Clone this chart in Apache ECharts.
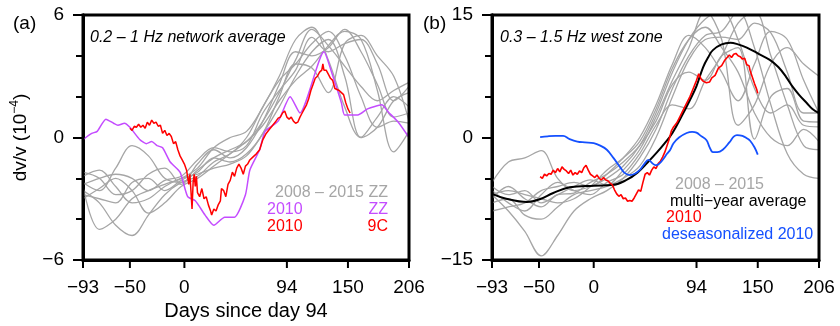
<!DOCTYPE html>
<html><head><meta charset="utf-8">
<script src="https://cdn.jsdelivr.net/npm/echarts@6/dist/echarts.min.js"></script>
<style>html,body{margin:0;padding:0;background:#fff}#c{width:840px;height:326px}</style>
</head><body><div id="c"></div>
<script>
// ---------- data ----------
const xTicks = [-93, -50, 0, 94, 150, 206];
const yTicksA = [-6, 0, 6];
const yTicksB = [-15, 0, 15];
const knotDays = [-93,-78,-63,-48,-33,-18,-3,12,27,42,57,72,87,102,117,132,147,162,177,192,206];

// panel (a) 2008-2015 ZZ (gray)
const grayA1 = [-2.2,-2.6,-1.5,-0.4,-0.9,-2.0,-2.2,-1.6,-1.0,-0.6,-0.2,0.8,2.2,3.8,5.3,4.5,3.5,2.5,1.8,2.3,2.7];
const grayA2 = [-2.6,-3.2,-4.3,-4.8,-3.8,-2.8,-2.2,-1.9,-1.2,-0.8,0.0,1.5,2.8,3.6,4.6,5.2,4.0,2.0,0.5,0.8,0.7];
const grayA3 = [-2.4,-4.5,-4.0,-3.0,-2.6,-2.3,-2.0,-1.5,-0.5,0.0,0.3,1.5,3.0,4.8,5.4,3.8,1.5,0.0,0.5,1.8,2.2];
const grayA4 = [-1.7,-2.0,-2.8,-2.6,-1.8,-1.5,-2.3,-1.3,-0.6,-1.0,-0.5,0.8,2.6,4.2,4.0,4.4,5.3,4.2,2.6,1.0,1.2];
const grayA5 = [-3.0,-2.5,-2.0,-2.6,-3.7,-3.2,-2.4,-2.0,-1.4,-0.8,-0.2,0.6,1.8,2.8,3.5,4.5,5.2,4.8,2.3,-0.7,0.3];
const grayA6 = [-1.9,-1.6,-2.4,-3.2,-3.0,-2.4,-2.0,-1.8,-1.5,-1.3,-0.9,0.2,1.5,3.0,4.2,4.8,3.0,0.0,1.0,2.0,1.5];
const grayA7 = [-2.3,-2.0,-1.8,-2.0,-2.6,-2.1,-1.9,-1.1,-0.5,-0.7,-0.4,1.2,2.3,3.3,4.9,4.2,4.6,4.8,3.6,1.8,2.5];
const grayA8 = [-2.8,-3.0,-3.2,-2.2,-2.0,-2.6,-2.1,-1.7,-1.0,-1.2,-0.8,0.2,2.0,3.6,3.4,2.2,4.6,5.0,4.0,3.0,0.8];

// panel (a) 2010 ZZ (purple): [day, value]
const purpleA = [[-93,-0.1],[-85,0.2],[-80,0.3],[-72,0.9],[-65,0.7],[-61,0.6],[-55,0.7],[-50,0.5],[-41,-0.1],[-35,-0.3],[-30,-0.2],[-25,-0.4],[-20,-0.5],[-13,-1.2],[-4,-1.7],[3,-2.9],[10,-3.1],[19,-3.8],[27,-4.3],[37,-3.9],[46,-3.9],[56,-2.8],[60,-1.6],[69,-0.6],[74,0.3],[86,0.8],[97,2.0],[106,1.2],[128,4.2],[135,3.2],[144,1.7],[147,1.1],[159,1.1],[168,1.4],[181,1.6],[187,1.25],[196,0.76],[206,0.0]];

// panel (a) 2010 9C (red)
const redA = [[-50,0.45],[-48,0.35],[-46,0.55],[-44,0.5],[-42,0.65],[-40,0.5],[-38,0.6],[-36,0.45],[-34,0.75],[-32,0.6],[-30,0.85],[-28,0.7],[-26,0.75],[-24,0.55],[-22,0.6],[-20,0.2],[-18,0.35],[-16,0.1],[-14,0.2],[-12,0.05],[-10,-0.3],[-8,-0.2],[-6,-0.6],[-4,-0.9],[-2,-1.1],[0,-1.3],[2,-1.6],[4,-2.3],[5,-1.8],[6,-2.6],[7,-3.5],[8,-2.2],[9,-1.8],[10,-2.4],[11,-1.9],[12,-2.7],[14,-2.9],[16,-2.5],[18,-3.0],[20,-2.9],[22,-3.3],[24,-3.6],[25,-3.8],[27,-3.5],[29,-3.6],[31,-3.3],[33,-3.1],[34,-2.5],[36,-2.6],[38,-2.9],[40,-2.3],[42,-2.1],[44,-1.7],[46,-1.9],[48,-1.5],[50,-1.3],[52,-1.5],[54,-1.8],[56,-1.4],[58,-1.3],[60,-1.1],[63,-0.95],[66,-0.8],[69,-0.6],[72,-0.1],[75,0.2],[78,0.4],[81,0.6],[84,0.8],[86,0.95],[88,1.0],[90,1.2],[92,1.3],[94,1.0],[96,0.9],[98,1.0],[100,0.8],[102,0.7],[104,0.75],[106,1.0],[108,1.2],[110,1.4],[112,1.6],[114,1.9],[116,2.3],[118,2.6],[120,2.9],[122,3.0],[124,3.2],[126,3.3],[127,3.6],[128,3.3],[130,3.3],[132,3.1],[134,2.9],[136,2.8],[138,2.4],[140,2.35],[142,2.3],[144,2.2],[146,2.1],[148,1.7],[150,1.4],[152,1.2]];

// panel (b) 2008-2015 (gray)
const grayB1 = [-5.5,-3.0,-2.5,-1.6,-5.0,-6.5,-6.0,-5.0,-3.5,-1.0,3.0,8.0,12.0,14.5,15.5,12.0,6.0,3.0,4.0,1.5,1.3];
const grayB2 = [-7.0,-9.0,-11.5,-14.5,-12.0,-9.0,-7.5,-6.5,-5.0,-2.5,1.0,6.0,10.0,12.5,13.0,15.5,11.0,4.0,-2.0,-4.5,-5.0];
const grayB3 = [-6.0,-7.0,-6.5,-8.0,-7.0,-6.0,-5.2,-5.8,-4.0,-1.5,2.5,7.0,11.0,15.5,12.0,1.5,4.0,9.0,11.0,9.0,7.5];
const grayB4 = [-8.0,-7.5,-9.5,-10.0,-8.5,-7.0,-6.5,-6.0,-5.0,-3.5,0.0,5.0,9.5,12.0,12.3,12.0,14.0,12.8,8.0,3.0,3.0];
const grayB5 = [-7.5,-6.0,-7.5,-8.5,-7.0,-6.8,-5.5,-4.5,-3.0,-1.0,2.0,6.5,8.0,7.0,10.0,11.0,-0.2,5.0,6.0,2.0,1.9];
const grayB6 = [-9.0,-8.5,-8.0,-6.5,-6.0,-5.5,-6.0,-4.5,-2.5,0.0,4.0,9.0,12.5,11.0,8.0,4.5,9.0,13.0,12.0,7.0,3.0];
const grayB7 = [-6.5,-8.0,-9.0,-7.0,-5.5,-6.5,-7.0,-5.5,-4.5,-2.0,1.5,4.0,3.5,7.0,10.0,14.0,15.5,10.0,4.0,-1.0,-1.5];
const grayB8 = [-7.0,-6.5,-7.0,-7.5,-8.0,-7.5,-6.0,-4.0,-2.5,-0.5,3.5,8.5,12.0,13.5,11.0,8.0,3.0,0.0,-1.0,1.0,-0.5];

// panel (b) multi-year average (black)
const avgB = [[-93,-6.9],[-80,-7.5],[-61,-7.9],[-50,-7.6],[-37,-6.8],[-22,-6.1],[0,-5.9],[18,-5.8],[30,-5.2],[40,-4.3],[49,-3.1],[58,-1.8],[65,-0.7],[72,0.55],[80,2.5],[88,4.6],[94,6.3],[100,8.6],[105,9.9],[109,10.7],[117,11.4],[125,11.6],[132,11.4],[140,11.0],[150,10.3],[161,9.5],[169,8.6],[176,7.4],[182,6.2],[188,5.2],[195,4.2],[200,3.5],[206,3.0]];

// panel (b) 2010 (red)
const redB = [[-49,-4.8],[-47,-5.0],[-45,-4.5],[-43,-4.7],[-41,-4.4],[-39,-4.5],[-37,-4.0],[-35,-4.3],[-33,-3.8],[-31,-4.2],[-29,-3.6],[-27,-3.9],[-25,-4.1],[-23,-4.4],[-21,-4.0],[-19,-4.6],[-17,-4.3],[-15,-4.5],[-13,-4.1],[-11,-4.3],[-9,-3.7],[-7,-3.4],[-5,-4.0],[-3,-4.5],[-1,-4.7],[1,-4.9],[3,-4.6],[5,-5.0],[7,-5.2],[9,-4.9],[11,-5.2],[13,-5.3],[15,-5.6],[17,-5.8],[19,-6.4],[21,-6.9],[23,-7.2],[25,-7.0],[27,-7.5],[29,-7.4],[31,-7.8],[33,-7.7],[35,-7.8],[37,-7.4],[39,-6.9],[41,-6.4],[43,-6.6],[45,-5.5],[47,-4.5],[49,-4.3],[51,-4.6],[53,-4.0],[55,-3.6],[57,-3.8],[59,-3.2],[61,-2.9],[63,-2.4],[65,-1.8],[67,-1.0],[69,-0.2],[71,0.8],[73,1.3],[76,1.8],[79,2.6],[82,3.4],[85,4.2],[88,5.0],[91,6.0],[94,7.0],[96,7.8],[98,7.2],[100,6.9],[103,6.7],[106,6.8],[108,7.3],[111,7.6],[114,8.5],[117,8.8],[120,9.5],[122,9.8],[124,10.1],[126,9.8],[128,10.2],[130,10.3],[132,10.0],[134,9.9],[136,9.6],[138,9.7],[140,8.9],[142,8.8],[143,8.2],[145,7.4],[147,6.6],[149,5.9],[150,5.4]];

// panel (b) deseasonalized 2010 (blue)
const blueB = [[-49,0.05],[-42,0.15],[-35,0.2],[-28,0.2],[-22,-0.2],[-15,-0.5],[-8,-0.6],[0,-0.7],[6,-1.0],[12,-1.5],[18,-2.5],[24,-3.6],[28,-4.3],[33,-4.6],[38,-4.4],[42,-4.0],[46,-3.3],[50,-2.75],[54,-3.2],[57,-3.4],[60,-3.2],[63,-2.75],[67,-2.0],[70,-1.5],[73,-0.7],[78,0.0],[85,0.55],[90,0.7],[94,0.6],[98,0.2],[103,-0.3],[106,-1.2],[109,-1.8],[113,-1.8],[118,-1.5],[124,-0.6],[128,0.1],[131,0.3],[136,0.2],[140,-0.1],[143,-0.4],[147,-1.2],[150,-2.1]];

// ---------- chart ----------
const FONT = 'Liberation Sans, Arial, Helvetica, sans-serif';
const GRAY = '#a6a6a6', PURPLE = '#c44cff', RED = '#ff0000', BLUE = '#1450ff';
const minus = v => (v < 0 ? '\u2212' + Math.abs(v) : String(v));
const YPER = 2; // y axes per grid: major, minor

const grays = (arrs, gi) => arrs.map(a => ({
  type: 'line', xAxisIndex: gi, yAxisIndex: gi * YPER, data: knotDays.map((d, i) => [d, a[i]]),
  smooth: 0.35, showSymbol: false, lineStyle: { color: GRAY, width: 1.3 }, z: 2, silent: true
}));
const line = (data, gi, color, width, smooth, z) => ({
  type: 'line', xAxisIndex: gi, yAxisIndex: gi * YPER, data, smooth, showSymbol: false,
  lineStyle: { color, width }, z, silent: true
});

function xAxis(gi) {
  return {
    type: 'value', gridIndex: gi, min: -93, max: 206, position: 'bottom',
    axisLine: { show: true, onZero: false, lineStyle: { color: '#000', width: 3 } },
    splitLine: { show: false },
    axisTick: { show: false },
    axisLabel: { customValues: xTicks, formatter: minus, color: '#000', fontSize: 19, fontFamily: FONT, margin: 18, showMinLabel: true, showMaxLabel: true },
    name: gi === 0 ? 'Days since day 94' : '', nameLocation: 'middle', nameGap: 41,
    nameTextStyle: { color: '#000', fontSize: 20, fontFamily: FONT }
  };
}
function yAxes(gi, lim, step, labels) {
  const base = {
    type: 'value', gridIndex: gi, min: -lim, max: lim, interval: step, position: 'left',
    axisLine: { show: true, onZero: false, lineStyle: { color: '#000', width: 3 } }, splitLine: { show: false }
  };
  const major = Object.assign({}, base, {
    axisTick: { show: true, customValues: labels, length: 10, lineStyle: { color: '#000', width: 2 } },
    axisLabel: { customValues: labels, formatter: minus, color: '#000', fontSize: 19, fontFamily: FONT, margin: 19 }
  });
  if (gi === 0) {
    major.name = '{a|dv/v (10}{s|\u22124}{a|)}';
    major.nameLocation = 'middle';
    major.nameRotate = 90;
    major.nameGap = 50;
    major.nameTextStyle = {
      rich: {
        a: { fontSize: 19, fontFamily: FONT, color: '#000', lineHeight: 24 },
        s: { fontSize: 12, fontFamily: FONT, color: '#000', verticalAlign: 'top', lineHeight: 24, padding: [0, 0, 10, 0] }
      }
    };
  }
  const minor = Object.assign({}, base, {
    axisTick: { show: true, length: 7, lineStyle: { color: '#000', width: 2 } },
    axisLabel: { show: false }
  });
  return [major, minor];
}

const txt = (x, y, text, color, extra) => ({
  type: 'text', x, y, silent: true,
  style: Object.assign({ text, fill: color, fontSize: 16, fontFamily: FONT, verticalAlign: 'middle' }, extra || {})
});

const textGraphics = [
  txt(13, 24, '(a)', '#000', { fontSize: 19 }),
  txt(423, 24, '(b)', '#000', { fontSize: 19 }),
  txt(90, 38, '0.2 \u2013 1 Hz network average', '#000', { fontStyle: 'italic' }),
  txt(500, 38, '0.3 \u2013 1.5 Hz west zone', '#000', { fontStyle: 'italic' }),
  txt(388, 193, '2008 \u2013 2015 ZZ', GRAY, { align: 'right' }),
  txt(267, 210, '2010', PURPLE),
  txt(388, 210, 'ZZ', PURPLE, { align: 'right' }),
  txt(267, 227, '2010', RED),
  txt(388, 227, '9C', RED, { align: 'right' }),
  txt(675, 185, '2008 \u2013 2015', GRAY),
  txt(670, 202, 'multi\u2212year average', '#000'),
  txt(666, 218, '2010', RED),
  txt(662, 235, 'deseasonalized 2010', BLUE)
];

const option = {
  animation: false,
  backgroundColor: '#fff',
  grid: [
    { left: 83, top: 15, width: 326, height: 245, outerBoundsMode: 'none', show: true, borderColor: '#000', borderWidth: 3, backgroundColor: 'transparent', z: 5 },
    { left: 492, top: 15, width: 327, height: 245, outerBoundsMode: 'none', show: true, borderColor: '#000', borderWidth: 3, backgroundColor: 'transparent', z: 5 }
  ],
  xAxis: [xAxis(0), xAxis(1)],
  yAxis: [...yAxes(0, 6, 2, yTicksA), ...yAxes(1, 15, 5, yTicksB)],
  series: [
    ...grays([grayA1, grayA2, grayA3, grayA4, grayA5, grayA6, grayA7, grayA8], 0),
    line(purpleA, 0, PURPLE, 1.5, 0.2, 3),
    line(redA, 0, RED, 1.5, false, 4),
    ...grays([grayB1, grayB2, grayB3, grayB4, grayB5, grayB6, grayB7, grayB8], 1),
    line(avgB, 1, '#000', 2, 0.4, 3),
    line(redB, 1, RED, 1.6, false, 4),
    line(blueB, 1, BLUE, 1.8, 0.4, 4)
  ],
  graphic: textGraphics
};
const chart = echarts.init(document.getElementById('c'), null, { renderer: 'canvas' });
chart.setOption(option);

// outward x-axis tick marks, positioned through the chart's own axis scales
const tickGraphics = [];
[[0, 6], [1, 15]].forEach(([gi, lim]) => {
  xTicks.forEach(d => {
    const p = chart.convertToPixel({ xAxisIndex: gi, yAxisIndex: gi * YPER }, [d, -lim]);
    if (p) {
      tickGraphics.push({
        type: 'line', silent: true, z: 100,
        shape: { x1: p[0], y1: p[1], x2: p[0], y2: p[1] + 8 },
        style: { stroke: '#000', lineWidth: 2 }
      });
    }
  });
});
chart.setOption({ graphic: textGraphics.concat(tickGraphics) });
</script></body></html>
